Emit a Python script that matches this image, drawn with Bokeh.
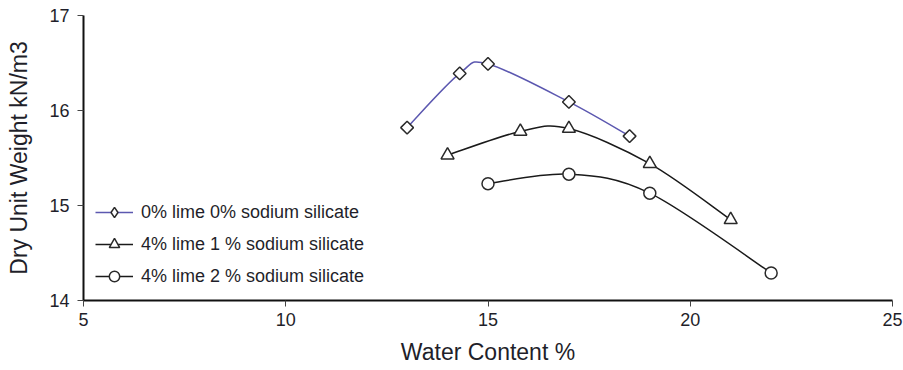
from bokeh.plotting import figure
from bokeh.models import Range1d, FixedTicker, Legend, LegendItem
from bokeh.embed import file_html
from bokeh.resources import INLINE
import math

# Compaction curves: water content (%) vs dry unit weight (kN/m3)
labels = [
    "0% lime 0% sodium silicate",
    "4% lime 1 % sodium silicate",
    "4% lime 2 % sodium silicate",
]
wc_0_0 = [13.0, 14.3, 15.0, 17.0, 18.5]
dw_0_0 = [15.82, 16.39, 16.49, 16.09, 15.73]
wc_4_1 = [14.0, 15.8, 17.0, 19.0, 21.0]
dw_4_1 = [15.53, 15.78, 15.81, 15.44, 14.85]
wc_4_2 = [15.0, 17.0, 19.0, 22.0]
dw_4_2 = [15.23, 15.33, 15.13, 14.29]

x_ticks = [5, 10, 15, 20, 25]
y_ticks = [14, 15, 16, 17]

FONT = "Liberation Sans"
TEXT = "#1f1f2a"


def smooth_segments(xs, ys):
    """Cubic Bezier control points for a Catmull-Rom style smoothed line."""
    n = len(xs)
    x0, y0, x1, y1, cx0, cy0, cx1, cy1 = ([] for _ in range(8))
    for i in range(n - 1):
        ip = max(i - 1, 0)
        inn = min(i + 2, n - 1)
        x0.append(xs[i]); y0.append(ys[i])
        x1.append(xs[i + 1]); y1.append(ys[i + 1])
        cx0.append(xs[i] + (xs[i + 1] - xs[ip]) / 6.0)
        cy0.append(ys[i] + (ys[i + 1] - ys[ip]) / 6.0)
        cx1.append(xs[i + 1] - (xs[inn] - xs[i]) / 6.0)
        cy1.append(ys[i + 1] - (ys[inn] - ys[i]) / 6.0)
    return dict(x0=x0, y0=y0, x1=x1, y1=y1, cx0=cx0, cy0=cy0, cx1=cx1, cy1=cy1)


p = figure(
    width=903, height=370,
    x_range=Range1d(5, 25), y_range=Range1d(14, 17),
    output_backend="svg", toolbar_location=None,
    min_border_left=83, min_border_right=11,
    min_border_top=15, min_border_bottom=70,
)
p.outline_line_color = None
p.xgrid.visible = False
p.ygrid.visible = False
p.background_fill_color = "white"
p.border_fill_color = "white"

for ax, ticks, lab in ((p.xaxis[0], x_ticks, "Water Content %"),
                       (p.yaxis[0], y_ticks, "Dry Unit Weight kN/m3")):
    ax.ticker = FixedTicker(ticks=ticks)
    ax.minor_tick_line_color = None
    ax.axis_line_color = "#111111"
    ax.axis_line_width = 2
    ax.major_tick_line_color = "#444444"
    ax.major_tick_line_width = 1
    ax.major_tick_out = 6
    ax.major_tick_in = 0
    ax.major_label_text_font = FONT
    ax.major_label_text_font_size = "18px"
    ax.major_label_text_color = TEXT
    ax.axis_label = lab
    ax.axis_label_text_font = FONT
    ax.axis_label_text_font_size = "23px"
    ax.axis_label_text_font_style = "normal"
    ax.axis_label_text_color = TEXT

p.xaxis.major_label_standoff = 6
p.xaxis.axis_label_standoff = 10
p.yaxis.major_label_standoff = 8
p.yaxis.axis_label_standoff = 14
p.yaxis.major_label_orientation = "horizontal"

# (x, y, line colour, plot marker, size, angle, legend marker)
series = [
    (wc_0_0, dw_0_0, "#5c58b0", "square", 9, math.pi / 4, "diamond"),
    (wc_4_1, dw_4_1, "#1a1a1a", "triangle", 13, 0.0, None),
    (wc_4_2, dw_4_2, "#1a1a1a", "circle", 12, 0.0, None),
]

nan = float("nan")
items = []
for (xs, ys, color, marker, size, ang, leg_marker), lab in zip(series, labels):
    seg = smooth_segments(xs, ys)
    bez = p.bezier(x0="x0", y0="y0", x1="x1", y1="y1",
                   cx0="cx0", cy0="cy0", cx1="cx1", cy1="cy1",
                   source=seg, line_color=color, line_width=1.5)
    sc = p.scatter(xs, ys, marker=marker, size=size, angle=ang,
                   fill_color="white", line_color="#2a2a2a", line_width=1.5)
    if leg_marker is not None:
        # key-only marker: legends draw markers without rotation
        sc = p.scatter([nan], [nan], marker=leg_marker, size=size,
                       fill_color="white", line_color="#2a2a2a", line_width=1.5)
    items.append(LegendItem(label=lab, renderers=[bez, sc]))

legend = Legend(
    items=items, location=(12, 11),
    border_line_color=None, background_fill_alpha=0,
    padding=0, margin=0, spacing=6,
    glyph_width=38, glyph_height=26, label_height=26,
    label_standoff=8,
    label_text_font=FONT, label_text_font_size="18px",
    label_text_color=TEXT,
)
p.add_layout(legend, "center")

open("out.html", "w").write(file_html(p, INLINE))
